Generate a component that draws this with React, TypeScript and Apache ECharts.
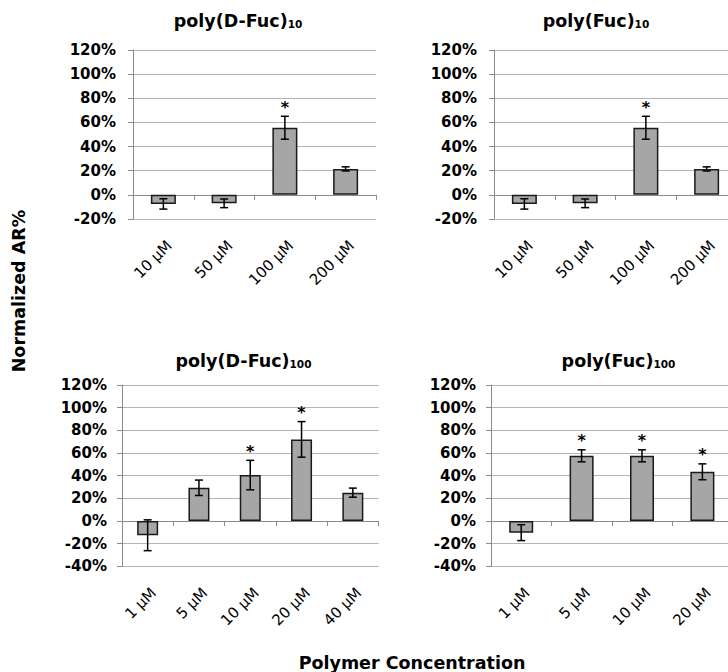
import { useEffect, useRef } from 'react';
import * as echarts from 'echarts';

// ---------- data ----------
const topCategories = ['10 µM', '50 µM', '100 µM', '200 µM'];
const bottomLeftCategories = ['1 µM', '5 µM', '10 µM', '20 µM', '40 µM'];
const bottomRightCategories = ['1 µM', '5 µM', '10 µM', '20 µM'];

const dFuc10Values = [-7.5, -7, 55.6, 21.5];
const dFuc10Errors = [4.3, 3.6, 9.5, 1.7];
const dFuc10Stars = [false, false, true, false];

const fuc10Values = [-7.5, -7, 55.6, 21.5];
const fuc10Errors = [4.3, 3.6, 9.5, 1.7];
const fuc10Stars = [false, false, true, false];

const dFuc100Values = [-12.6, 29.3, 40.5, 72, 25];
const dFuc100Errors = [13.6, 6.8, 13, 15.7, 4];
const dFuc100Stars = [false, false, true, true, false];

const fuc100Values = [-10.3, 57.5, 57.5, 43.4];
const fuc100Errors = [7, 5.3, 5.3, 7];
const fuc100Stars = [false, true, true, true];

const topYRange = [-20, 120];
const bottomYRange = [-40, 120];
const yStep = 20;

const titles = [
  ['poly(D-Fuc)', '10'],
  ['poly(Fuc)', '10'],
  ['poly(D-Fuc)', '100'],
  ['poly(Fuc)', '100'],
];
const yAxisTitle = 'Normalized AR%';
const xAxisTitle = 'Polymer Concentration';

// ---------- layout ----------
const BOLD = '"DejaVu Sans", Verdana, sans-serif';
const REG = '"DejaVu Sans", Verdana, sans-serif';
const panels = [
  { cats: topCategories, values: dFuc10Values, errors: dFuc10Errors, stars: dFuc10Stars, range: topYRange,
    left: 133, top: 50, width: 243, height: 169, barWidth: 25, yMargin: 17, xMargin: 24, labelDx: 6, titleX: 238, titleY: 29.5 },
  { cats: topCategories, values: fuc10Values, errors: fuc10Errors, stars: fuc10Stars, range: topYRange,
    left: 494, top: 50, width: 243, height: 169, barWidth: 25, yMargin: 17, xMargin: 24, labelDx: 6, titleX: 596, titleY: 29.5 },
  { cats: bottomLeftCategories, values: dFuc100Values, errors: dFuc100Errors, stars: dFuc100Stars, range: bottomYRange,
    left: 122, top: 385, width: 256.5, height: 181.3, barWidth: 21, yMargin: 15, xMargin: 24, labelDx: 6, titleX: 243.5, titleY: 369.5 },
  { cats: bottomRightCategories, values: fuc100Values, errors: fuc100Errors, stars: fuc100Stars, range: bottomYRange,
    left: 491, top: 385, width: 241.6, height: 181.3, barWidth: 24, yMargin: 15, xMargin: 24, labelDx: 6, titleX: 618.5, titleY: 369.5 },
];

function buildOption() {
  const grid: any[] = [];
  const xAxis: any[] = [];
  const yAxis: any[] = [];
  const series: any[] = [];
  const graphic: any[] = [];

  panels.forEach((p, i) => {
    grid.push({ left: p.left, top: p.top, width: p.width, height: p.height, containLabel: false, outerBoundsMode: 'none' });
    grid.push({ left: p.left + p.labelDx, top: p.top, width: p.width, height: p.height, containLabel: false, outerBoundsMode: 'none' });

    xAxis.push({
      type: 'category', gridIndex: 2 * i, data: p.cats, position: 'bottom',
      axisLine: { show: true, onZero: true, lineStyle: { color: '#8a8a8a', width: 1 } },
      axisTick: { show: true, interval: 0, alignWithLabel: false, inside: false, length: 5, lineStyle: { color: '#8a8a8a', width: 1 } },
      axisLabel: { show: false },
      splitLine: { show: false },
    });
    xAxis.push({
      type: 'category', gridIndex: 2 * i + 1, data: p.cats, position: 'bottom',
      axisLine: { show: false, onZero: false },
      axisTick: { show: false },
      splitLine: { show: false },
      axisLabel: { show: true, interval: 0, rotate: 45, margin: p.xMargin, color: '#000', fontSize: 15, fontFamily: REG },
    });

    yAxis.push({
      type: 'value', gridIndex: 2 * i, min: p.range[0], max: p.range[1], interval: yStep,
      axisLine: { show: true, onZero: false, lineStyle: { color: '#8a8a8a', width: 1 } },
      axisTick: { show: true, inside: false, length: 5, lineStyle: { color: '#8a8a8a', width: 1 } },
      splitLine: { show: true, lineStyle: { color: '#b4b4b4', width: 1 } },
      axisLabel: { show: true, margin: p.yMargin, formatter: '{value}%', color: '#000', fontSize: 15, fontWeight: 'bold', fontFamily: BOLD },
    });
    yAxis.push({ type: 'value', gridIndex: 2 * i + 1, min: p.range[0], max: p.range[1], interval: yStep, show: false });

    series.push({
      type: 'bar', xAxisIndex: 2 * i, yAxisIndex: 2 * i, data: p.values, barWidth: p.barWidth,
      itemStyle: { color: '#a6a6a6', borderColor: '#1a1a1a', borderWidth: 1.5 },
      z: 3,
    });
    series.push({
      type: 'custom', xAxisIndex: 2 * i, yAxisIndex: 2 * i, z: 10,
      data: p.values.map((v, j) => [j, v, p.errors[j], p.stars[j] ? 1 : 0]),
      renderItem: (_params: any, api: any) => {
        const x = api.value(0);
        const v = api.value(1);
        const e = api.value(2);
        const s = api.value(3);
        const hi = api.coord([x, v + e]);
        const lo = api.coord([x, v - e]);
        const cap = 4;
        const style = { stroke: '#000', lineWidth: 1.5 };
        const children: any[] = [
          { type: 'line', shape: { x1: hi[0], y1: hi[1], x2: lo[0], y2: lo[1] }, style },
          { type: 'line', shape: { x1: hi[0] - cap, y1: hi[1], x2: hi[0] + cap, y2: hi[1] }, style },
          { type: 'line', shape: { x1: lo[0] - cap, y1: lo[1], x2: lo[0] + cap, y2: lo[1] }, style },
        ];
        if (s) {
          children.push({
            type: 'text', x: hi[0], y: hi[1] - 9,
            style: { text: '*', fill: '#000', font: `bold 16px ${BOLD}`, align: 'center', verticalAlign: 'middle' },
          });
        }
        return { type: 'group', children };
      },
    });

    graphic.push({
      type: 'text', x: p.titleX, y: p.titleY,
      style: {
        text: `{a|${titles[i][0]}}{b|${titles[i][1]}}`,
        align: 'center', verticalAlign: 'bottom',
        rich: {
          a: { fontSize: 17.5, fontWeight: 'bold', fontFamily: BOLD, lineHeight: 20, verticalAlign: 'bottom', fill: '#000' },
          b: { fontSize: 10.5, fontWeight: 'bold', fontFamily: BOLD, lineHeight: 10, verticalAlign: 'bottom', fill: '#000' },
        },
      },
    });
  });

  graphic.push({
    type: 'text', x: 19, y: 291, rotation: Math.PI / 2,
    style: { text: yAxisTitle, font: `bold 17.5px ${BOLD}`, fill: '#000', align: 'center', verticalAlign: 'middle' },
  });
  graphic.push({
    type: 'text', x: 412, y: 663,
    style: { text: xAxisTitle, font: `bold 17.5px ${BOLD}`, fill: '#000', align: 'center', verticalAlign: 'middle' },
  });

  return {
    animation: false,
    backgroundColor: '#ffffff',
    grid, xAxis, yAxis, series, graphic,
  };
}

export default function App() {
  const ref = useRef<HTMLDivElement>(null);
  useEffect(() => {
    if (!ref.current) return;
    const chart = echarts.init(ref.current, undefined, { renderer: 'svg' });
    chart.setOption(buildOption() as any);
    return () => chart.dispose();
  }, []);
  return (
    <div
      ref={ref}
      style={{ position: 'fixed', left: 0, top: 0, width: 728, height: 672, overflow: 'hidden', background: '#fff' }}
    />
  );
}
